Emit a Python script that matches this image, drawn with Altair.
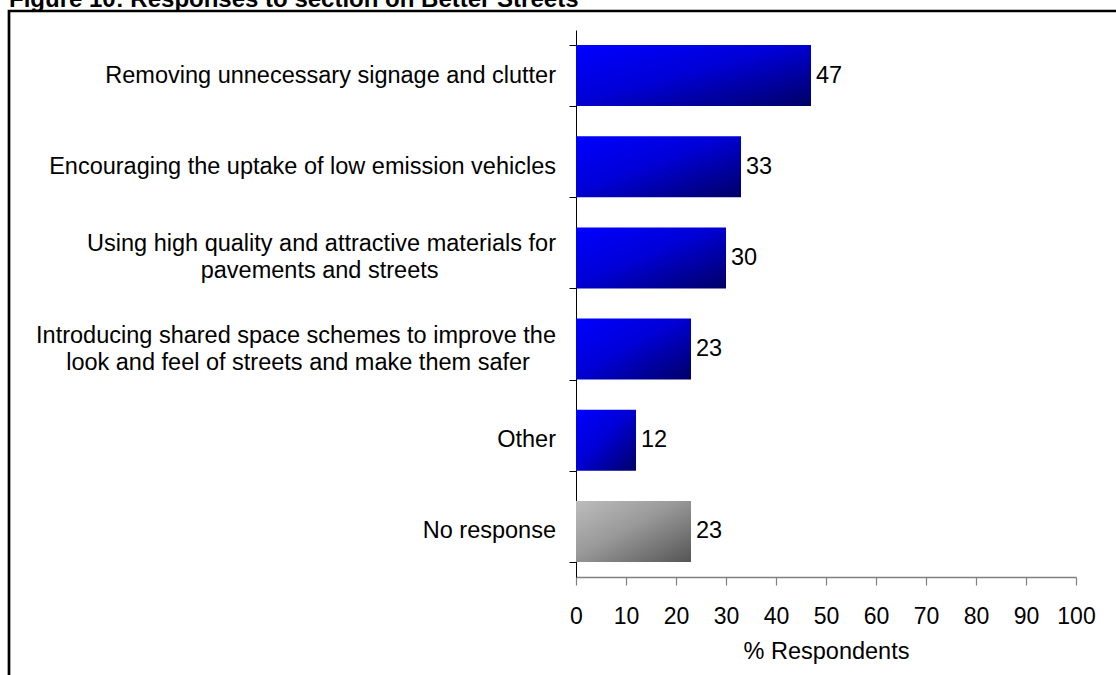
import altair as alt
import pandas as pd

NB = "\u00a0"
END = "\u200b"
categories = [
    "Removing unnecessary signage and clutter",
    "Encouraging the uptake of low emission vehicles",
    "Using high quality and attractive materials for\npavements and streets" + NB * 18 + END,
    "Introducing shared space schemes to improve the\nlook and feel of streets and make them safer" + NB * 4 + END,
    "Other",
    "No response",
]
values = [47, 33, 30, 23, 12, 23]
groups = ["blue", "blue", "blue", "blue", "blue", "grey"]
x_ticks = [0, 10, 20, 30, 40, 50, 60, 70, 80, 90, 100]
title_text = "Figure 10: Responses to section on Better Streets"

df = pd.DataFrame({"category": categories, "value": values, "group": groups})

FONT = "Liberation Sans"
FS = 23.5
LH = 27

blue_grad = alt.LinearGradient(
    gradient="linear",
    stops=[alt.GradientStop(color="#0000ff", offset=0),
           alt.GradientStop(color="#0000d8", offset=0.45),
           alt.GradientStop(color="#000066", offset=1)],
    x1=0, y1=0, x2=1, y2=1,
)
grey_grad = alt.LinearGradient(
    gradient="linear",
    stops=[alt.GradientStop(color="#bdbdbd", offset=0),
           alt.GradientStop(color="#999999", offset=0.45),
           alt.GradientStop(color="#555555", offset=1)],
    x1=0, y1=0, x2=1, y2=1,
)

x_enc = alt.X(
    "value:Q",
    scale=alt.Scale(domain=[0, 100], nice=False, zero=True),
    axis=alt.Axis(
        values=x_ticks, title="% Respondents", grid=False,
        tickSize=8, labelPadding=20, domainColor="#808080", tickColor="#808080",
        domainWidth=1.5, tickWidth=1.2, labelOverlap=False, labelFlush=False,
        labelFont=FONT, labelFontSize=23, labelColor="#000000",
        titleFont=FONT, titleFontSize=FS, titleFontWeight="normal", titleColor="#000000",
        titleY=81, titleBaseline="alphabetic",
    ),
)
y_enc = alt.Y(
    "category:N",
    sort=categories,
    scale=alt.Scale(paddingInner=0.33, paddingOuter=0.165),
    axis=alt.Axis(
        title=None, labels=False, tickBand="extent",
        tickSize=7, domainColor="#000000", tickColor="#000000",
    ),
)

base = alt.Chart(df)
bars_blue = base.transform_filter("datum.group == 'blue'").mark_bar(color=blue_grad).encode(x=x_enc, y=y_enc)
bars_grey = base.transform_filter("datum.group == 'grey'").mark_bar(color=grey_grad).encode(x=x_enc, y=y_enc)
labels = base.mark_text(align="left", baseline="middle", dx=5, font=FONT, fontSize=FS, color="#000000").encode(
    x=x_enc, y=y_enc, text=alt.Text("value:Q")
)

cat_single = base.transform_filter("indexof(datum.category, '\\n') < 0").mark_text(
    align="right", baseline="middle", font=FONT, fontSize=FS, color="#000000"
).encode(x=alt.value(-20), y=y_enc, text=alt.Text("category:N"))
cat_multi = base.transform_filter("indexof(datum.category, '\\n') >= 0").mark_text(
    align="right", baseline="middle", font=FONT, fontSize=FS, color="#000000",
    lineBreak="\n", lineHeight=LH, dy=-LH / 2,
).encode(x=alt.value(-20), y=y_enc, text=alt.Text("category:N"))

one = pd.DataFrame({"k": [0]})
border = alt.Chart(one).mark_rect(filled=False, stroke="#000000", strokeWidth=2.7).encode(
    x=alt.value(-567), x2=alt.value(560), y=alt.value(-19), y2=alt.value(660)
)
title = alt.Chart(one).mark_text(
    align="left", baseline="alphabetic", font=FONT, fontSize=24, fontWeight="bold", color="#000000"
).encode(x=alt.value(-567), y=alt.value(-23.5), text=alt.value(title_text))

chart = alt.layer(border, title, bars_blue, bars_grey, labels, cat_single, cat_multi).properties(
    width=500, height=547,
    autosize=alt.AutoSizeParams(type="none"),
    padding={"left": 576, "top": 30, "right": 40, "bottom": 98},
    background="#ffffff",
).configure_view(stroke=None)

chart.save("out.html", embed_options={"renderer": "svg", "actions": False})
